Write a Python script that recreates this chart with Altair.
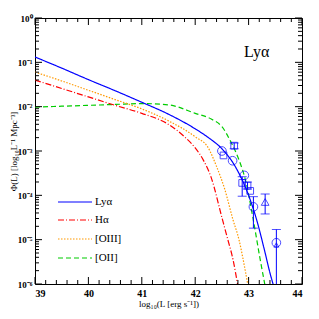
import altair as alt
import pandas as pd

# ---- data (log10 values) ----
lya_x = [39, 39.5, 40, 40.5, 41, 41.5, 42, 42.25, 42.5, 42.75, 43.0, 43.15, 43.3, 43.4, 43.47]
lya_y = [-0.88, -1.13, -1.39, -1.64, -1.90, -2.17, -2.50, -2.70, -2.95, -3.35, -4.0, -4.55, -5.25, -5.75, -6.05]

ha_x = [39, 39.5, 40, 40.5, 41, 41.5, 41.8, 42.0, 42.15, 42.3, 42.5, 42.6, 42.71, 42.8]
ha_y = [-1.40, -1.59, -1.78, -1.97, -2.15, -2.40, -2.68, -2.93, -3.2, -3.6, -4.5, -4.95, -5.46, -6.05]

o3_x = [39, 39.5, 40, 40.5, 41, 41.5, 42.0, 42.24, 42.4, 42.55, 42.71, 42.82, 42.9, 42.99]
o3_y = [-1.22, -1.42, -1.63, -1.84, -2.05, -2.32, -2.68, -2.92, -3.35, -3.85, -4.56, -5.0, -5.46, -6.05]

o2_x = [39, 39.5, 40, 40.5, 41, 41.5, 42.0, 42.3, 42.5, 42.69, 42.82, 42.95, 43.08, 43.21, 43.31]
o2_y = [-2.01, -1.99, -1.97, -1.95, -1.93, -1.96, -2.15, -2.28, -2.45, -2.85, -3.2, -3.7, -4.5, -5.4, -6.05]

pts_x = [42.50, 42.53, 42.73, 42.70, 42.92, 42.88, 42.98, 43.03, 43.09, 43.31, 43.52, 43.52]
pts_y = [-3.00, -3.10, -2.88, -3.22, -3.55, -3.72, -3.78, -3.90, -4.26, -4.15, -5.07, -5.12]
pts_shape = ["circle", "square", "square", "circle", "circle", "square", "square", "square",
             "circle", "triangle-up", "circle", "triangle-up"]
pts_size = [75, 45, 45, 75, 75, 45, 45, 45, 75, 60, 75, 25]

err_x = [42.73, 42.88, 42.98, 43.09, 43.31, 43.52]
err_lo = [-2.95, -4.02, -3.86, -4.74, -4.42, -6.0]
err_hi = [-2.82, -3.58, -3.70, -4.03, -3.97, -4.77]
cap_x = [42.73, 42.73, 42.88, 42.88, 42.98, 42.98, 43.09, 43.09, 43.31, 43.31, 43.52]
cap_y = [-2.95, -2.82, -4.02, -3.58, -3.86, -3.70, -4.74, -4.03, -4.42, -3.97, -4.77]

legend_labels = ["Lyα", "Hα", "[OIII]", "[OII]"]
legend_colors = ["#0000ff", "#ff0000", "#ff9900", "#00cc00"]
legend_dashes = [[1, 0], [6, 2, 1, 2], [1.5, 1.5], [5, 3]]

x_major = [39, 40, 41, 42, 43, 44]
x_minor = [round(39 + 0.2 * i, 1) for i in range(26) if i % 5 != 0]
y_major = [10.0 ** e for e in range(-6, 1)]
y_minor = [m * 10.0 ** e for e in range(-6, 0) for m in range(2, 10)]

W, H = 267, 266
xs = alt.Scale(domain=[39, 44], nice=False)
ys = alt.Scale(type="log", domain=[1e-6, 1], nice=False)

font = "Liberation Serif"

def curve(xv, yv, color, dash):
    df = pd.DataFrame({"x": xv, "y": [10 ** v for v in yv]})
    return alt.Chart(df).mark_line(color=color, strokeDash=dash, strokeWidth=1.2,
                                   clip=True, interpolate="monotone").encode(
        x=alt.X("x:Q", scale=xs), y=alt.Y("y:Q", scale=ys))

base_df = pd.DataFrame({"x": [39, 44], "y": [1e-6, 1]})
base = alt.Chart(base_df).mark_point(opacity=0).encode(
    x=alt.X("x:Q", scale=xs, axis=alt.Axis(
        title="log₁₀(L [erg s⁻¹])", values=x_major, format="d", grid=False,
        ticks=False, domain=False, labelFont=font, labelFontSize=10, labelFontWeight="bold",
        labelPadding=4, titleFont=font, titleFontSize=9, titleFontWeight="normal",
        titlePadding=1)),
    y=alt.Y("y:Q", scale=ys, axis=alt.Axis(
        title="Φ(L) [log₁₀L⁻¹ Mpc⁻³]", values=y_major, grid=False, ticks=False, domain=False,
        labelExpr="['10⁻⁶','10⁻⁵','10⁻⁴','10⁻³','10⁻²','10⁻¹','10⁰'][round(log(datum.value)/LN10)+6]",
        labelFont=font, labelFontSize=9, labelFontWeight="bold", labelPadding=3,
        titleFont=font, titleFontSize=9, titleFontWeight="normal",
        titleX=-19, titleBaseline="alphabetic")),
)

layers = [base]
layers += [curve(o2_x, o2_y, legend_colors[3], legend_dashes[3]),
           curve(o3_x, o3_y, legend_colors[2], legend_dashes[2]),
           curve(ha_x, ha_y, legend_colors[1], legend_dashes[1]),
           curve(lya_x, lya_y, legend_colors[0], legend_dashes[0])]

# error bars
edf = pd.DataFrame({"x": err_x, "lo": [10 ** v for v in err_lo], "hi": [10 ** v for v in err_hi]})
layers.append(alt.Chart(edf).mark_rule(color="#0000ff", strokeWidth=1, clip=True).encode(
    x=alt.X("x:Q", scale=xs), y=alt.Y("lo:Q", scale=ys), y2="hi:Q"))
cdf = pd.DataFrame({"x": cap_x, "y": [10 ** v for v in cap_y]})
layers.append(alt.Chart(cdf).mark_tick(color="#0000ff", orient="horizontal", size=9,
                                       thickness=1).encode(
    x=alt.X("x:Q", scale=xs), y=alt.Y("y:Q", scale=ys)))

# points
pdf = pd.DataFrame({"x": pts_x, "y": [10 ** v for v in pts_y], "shape": pts_shape, "size": pts_size})
layers.append(alt.Chart(pdf).mark_point(color="#0000ff", filled=False, strokeWidth=1).encode(
    x=alt.X("x:Q", scale=xs), y=alt.Y("y:Q", scale=ys),
    shape=alt.Shape("shape:N", scale=None), size=alt.Size("size:Q", scale=None)))

# inward ticks on four sides
def xticks(vals, ln):
    d = pd.DataFrame({"x": vals})
    b = alt.Chart(d).mark_rule(color="black", strokeWidth=1)
    return [b.encode(x=alt.X("x:Q", scale=xs), y=alt.value(H), y2=alt.value(H - ln)),
            b.encode(x=alt.X("x:Q", scale=xs), y=alt.value(0), y2=alt.value(ln))]

def yticks(vals, ln):
    d = pd.DataFrame({"y": vals})
    b = alt.Chart(d).mark_rule(color="black", strokeWidth=1)
    return [b.encode(y=alt.Y("y:Q", scale=ys), x=alt.value(0), x2=alt.value(ln)),
            b.encode(y=alt.Y("y:Q", scale=ys), x=alt.value(W), x2=alt.value(W - ln))]

layers += xticks(x_major, 7) + xticks(x_minor, 4) + yticks(y_major, 7) + yticks(y_minor, 4)

# legend
ldf = pd.DataFrame({"label": legend_labels, "color": legend_colors, "row": [0, 1, 2, 3]})
rowy = [184, 202, 221, 240]
for i in range(4):
    r = ldf.iloc[[i]]
    layers.append(alt.Chart(r).mark_rule(color=legend_colors[i], strokeDash=legend_dashes[i],
                                         strokeWidth=1.2).encode(
        x=alt.value(23), x2=alt.value(57), y=alt.value(rowy[i])))
    layers.append(alt.Chart(r).mark_text(align="left", baseline="middle", font=font,
                                         fontSize=11).encode(
        x=alt.value(60), y=alt.value(rowy[i]), text="label:N"))

# panel label
tdf = pd.DataFrame({"t": ["Lyα"]})
layers.append(alt.Chart(tdf).mark_text(align="left", baseline="alphabetic", font=font,
                                       fontSize=16).encode(
    x=alt.value(209), y=alt.value(39), text="t:N"))

chart = alt.layer(*layers).properties(
    width=W, height=H,
    autosize=alt.AutoSizeParams(type="none"),
    padding={"left": 27, "top": 10, "right": 9, "bottom": 27},
).configure_view(stroke="black", strokeWidth=1)

chart.save("out.html", embed_options={"renderer": "svg", "actions": False})
